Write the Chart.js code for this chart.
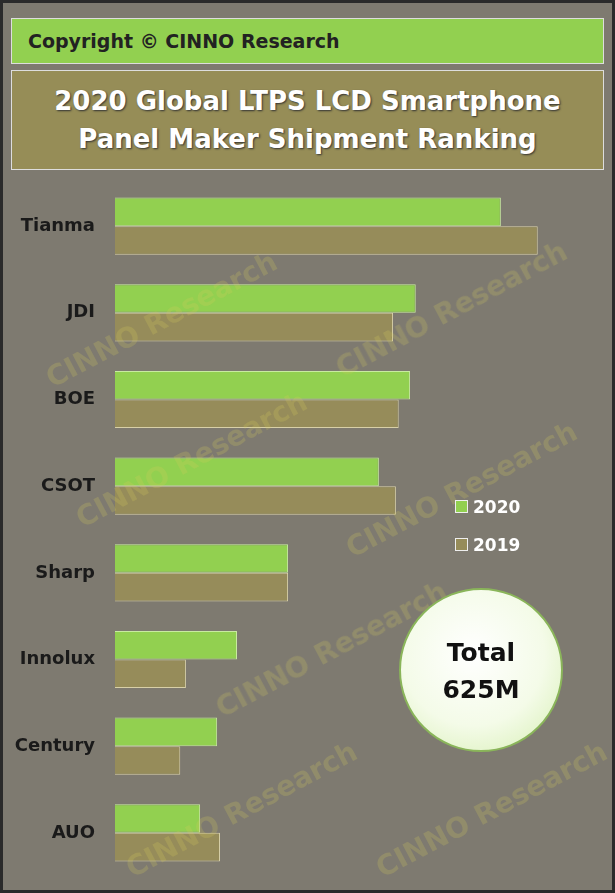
<!DOCTYPE html>
<html><head><meta charset="utf-8">
<script src="https://cdn.jsdelivr.net/npm/chart.js@4"></script>
<style>
body{margin:0;background:#000;}
#box{position:absolute;left:0;top:0;width:609px;height:887px;background:#7e7a70;border:3px solid #2a2a2a;overflow:hidden;font-family:"DejaVu Sans",sans-serif;}
#hdr{position:absolute;left:8px;top:15px;width:593px;height:46px;background:#92d050;border:1px solid #ddd;box-sizing:border-box;font-weight:bold;font-size:19px;color:#222;line-height:44px;padding-left:16px;}
#ttl{position:absolute;left:8px;top:67px;width:593px;height:100px;background:#968d57;border:1px solid #ddd;box-sizing:border-box;color:#fff;font-weight:bold;font-size:26px;text-align:center;line-height:38px;padding-top:11px;text-shadow:1px 1px 2px #333;}
#cw{position:absolute;left:0;top:157px;width:600px;height:739px;}
.wm{position:absolute;color:rgba(215,205,90,0.22);font-weight:bold;font-size:28px;transform:rotate(-28deg);white-space:nowrap;pointer-events:none;}
.lg{position:absolute;left:452px;font-weight:bold;font-size:17px;color:#fff;}
.lg span{display:inline-block;width:11px;height:11px;margin-right:5px;border:1px solid #eee;}
#circ{position:absolute;left:396px;top:585px;width:164px;height:164px;border-radius:50%;background:radial-gradient(circle at 45% 40%,#ffffff 0%,#f4fbe8 55%,#d4eeb0 100%);border:2px solid #8ab55a;box-sizing:border-box;text-align:center;font-weight:bold;font-size:25px;color:#111;line-height:37px;padding-top:44px;}
</style></head><body>
<div id="box">
<div id="hdr">Copyright © CINNO Research</div>
<div id="ttl">2020 Global LTPS LCD Smartphone<br>Panel Maker Shipment Ranking</div>
<div id="cw"><canvas id="c" width="600" height="739"></canvas></div>
<div class="wm" style="left:30px;top:300px">CINNO Research</div>
<div class="wm" style="left:320px;top:290px">CINNO Research</div>
<div class="wm" style="left:60px;top:440px">CINNO Research</div>
<div class="wm" style="left:330px;top:470px">CINNO Research</div>
<div class="wm" style="left:200px;top:630px">CINNO Research</div>
<div class="wm" style="left:110px;top:790px">CINNO Research</div>
<div class="wm" style="left:360px;top:790px">CINNO Research</div>
<div class="lg" id="l0" style="top:494px"><span style="background:#92d050"></span></div>
<div class="lg" id="l1" style="top:532px"><span style="background:#968c5a"></span></div>
<div id="circ">Total<br>625M</div>
</div>
<script>
const categories=["Tianma","JDI","BOE","CSOT","Sharp","Innolux","Century","AUO"];
const seriesLabels=["2020","2019"];
const values2020=[136,106,104,93,61,43,36,30];
const values2019=[149,98,100,99,61,25,23,37];
document.getElementById('l0').append(seriesLabels[0]);
document.getElementById('l1').append(seriesLabels[1]);
new Chart(document.getElementById('c'),{type:'bar',
data:{labels:categories,datasets:[
{label:seriesLabels[0],data:values2020,backgroundColor:'#92d050',borderColor:'#c8eba0',borderWidth:1},
{label:seriesLabels[1],data:values2019,backgroundColor:'#968c5a',borderColor:'#d8d0a8',borderWidth:1}]},
options:{indexAxis:'y',responsive:false,animation:false,maintainAspectRatio:false,
layout:{padding:{top:4,bottom:0,right:0}},
categoryPercentage:0.66,barPercentage:1.0,
plugins:{legend:{display:false},tooltip:{enabled:false}},
scales:{x:{min:0,max:172,display:false},
y:{grid:{display:false},border:{display:false},afterFit(s){s.width=112;},
ticks:{color:'#1a1a1a',padding:12,font:{family:'DejaVu Sans',weight:'bold',size:18}}}}}});
</script>
</body></html>
